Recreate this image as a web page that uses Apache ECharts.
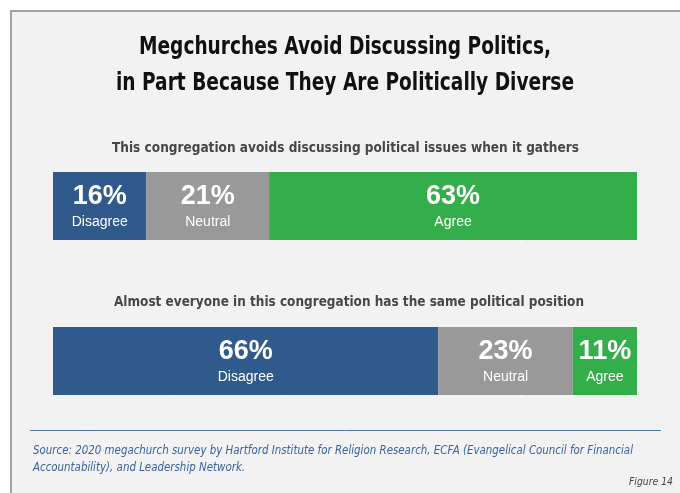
<!DOCTYPE html>
<html>
<head>
<meta charset="utf-8">
<style>
  html, body { margin: 0; padding: 0; background: #ffffff; }
  #chart { width: 680px; height: 493px; }
</style>
<script src="https://cdn.jsdelivr.net/npm/echarts@6/dist/echarts.min.js"></script>
</head>
<body>
<div id="chart"></div>
<script>
// Survey statements (one stacked bar each)
const statements = [
  'This congregation avoids discussing political issues when it gathers',
  'Almost everyone in this congregation has the same political position'
];
// Response categories, left to right
const responses = ['Disagree', 'Neutral', 'Agree'];
// Percent of respondents per statement
const disagree = [16, 66];
const neutral = [21, 23];
const agree = [63, 11];
const xTicks = [0, 20, 40, 60, 80, 100];

const titleLines = [
  'Megchurches Avoid Discussing Politics,',
  'in Part Because They Are Politically Diverse'
];
const sourceLines = [
  'Source: 2020 megachurch survey by Hartford Institute for Religion Research, ECFA (Evangelical Council for Financial',
  'Accountability), and Leadership Network.'
];
const figureTag = 'Figure 14';

const colors = { Disagree: '#305a8b', Neutral: '#999999', Agree: '#34ad4b' };
const valuesByResponse = { Disagree: disagree, Neutral: neutral, Agree: agree };

const condensed = '"DejaVu Sans Condensed", "DejaVu Sans", sans-serif';
const barTops = [172, 327];
const barHeight = 68;

// Horizontal squeeze so a condensed line of text spans a set width
const measureCtx = document.createElement('canvas').getContext('2d');
function squeeze(text, font, width) {
  measureCtx.font = font;
  return Math.min(1, width / measureCtx.measureText(text).width);
}

function condensedText(text, opts) {
  const font = opts.font;
  const sx = opts.fitWidth ? squeeze(text, font, opts.fitWidth) : (opts.scaleX || 1);
  return {
    type: 'text', silent: true, x: opts.x, y: opts.y, scaleX: sx,
    style: {
      text: text, font: font, fill: opts.color,
      textAlign: opts.align || 'left', textVerticalAlign: 'middle'
    }
  };
}

const grids = statements.map((s, i) => ({
  left: 53, width: 584, top: barTops[i], height: barHeight
}));

const xAxes = statements.map((s, i) => ({
  type: 'value', gridIndex: i, min: xTicks[0], max: xTicks[xTicks.length - 1],
  interval: xTicks[1] - xTicks[0],
  axisLabel: { show: false }, splitLine: { show: false },
  axisLine: { show: false },
  axisTick: { show: true, length: 2, lineStyle: { color: '#ffffff', width: 1 } }
}));

const yAxes = statements.map((s, i) => ({
  type: 'category', gridIndex: i, data: [s], show: false
}));

const series = [];
statements.forEach((s, i) => {
  responses.forEach(r => {
    series.push({
      type: 'bar', name: r, stack: 'row' + i,
      xAxisIndex: i, yAxisIndex: i,
      barWidth: barHeight,
      itemStyle: { color: colors[r] },
      data: [valuesByResponse[r][i]],
      label: {
        show: true, position: 'inside', offset: [0, 2],
        formatter: p => '{p|' + p.value + '%}\n{c|' + r + '}',
        rich: {
          p: { color: '#ffffff', fontSize: 27, fontWeight: 'bold',
               fontFamily: '"Liberation Sans", Arial, sans-serif', lineHeight: 28 },
          c: { color: '#ffffff', fontSize: 14,
               fontFamily: '"Liberation Sans", Arial, sans-serif', lineHeight: 22 }
        }
      },
      emphasis: { disabled: true },
      animation: false
    });
  });
});

const graphics = [
  {
    type: 'rect', z: -10, silent: true,
    shape: { x: 11, y: 11, width: 700, height: 500 },
    style: { fill: '#f1f2f1', stroke: '#a3a3a3', lineWidth: 2 }
  },
  {
    type: 'line', silent: true,
    shape: { x1: 30, y1: 430.5, x2: 661, y2: 430.5 },
    style: { stroke: '#4f76b0', lineWidth: 1 }
  },
  condensedText(titleLines[0], { x: 345, y: 48, align: 'center', fitWidth: 412,
    font: 'bold 24px ' + condensed, color: '#111111' }),
  condensedText(titleLines[1], { x: 345, y: 84, align: 'center', fitWidth: 458,
    font: 'bold 24px ' + condensed, color: '#111111' }),
  condensedText(statements[0], { x: 345.5, y: 148, align: 'center', fitWidth: 467,
    font: 'bold 14.5px ' + condensed, color: '#474747' }),
  condensedText(statements[1], { x: 349, y: 302, align: 'center', fitWidth: 470,
    font: 'bold 14.5px ' + condensed, color: '#474747' }),
  condensedText(sourceLines[0], { x: 33, y: 451, fitWidth: 600,
    font: 'italic 12.5px ' + condensed, color: '#3b62a0' }),
  condensedText(sourceLines[1], { x: 33, y: 468, scaleX: 0,
    font: 'italic 12.5px ' + condensed, color: '#3b62a0' }),
  condensedText(figureTag, { x: 673, y: 482, align: 'right', fitWidth: 44,
    font: 'italic 11px ' + condensed, color: '#444444' })
];
// Second source line keeps the same squeeze as the first
graphics[7].scaleX = graphics[6].scaleX;

const chart = echarts.init(document.getElementById('chart'), null, { renderer: 'canvas' });
chart.setOption({
  backgroundColor: '#ffffff',
  animation: false,
  graphic: graphics,
  grid: grids,
  xAxis: xAxes,
  yAxis: yAxes,
  series: series
});
</script>
</body>
</html>
